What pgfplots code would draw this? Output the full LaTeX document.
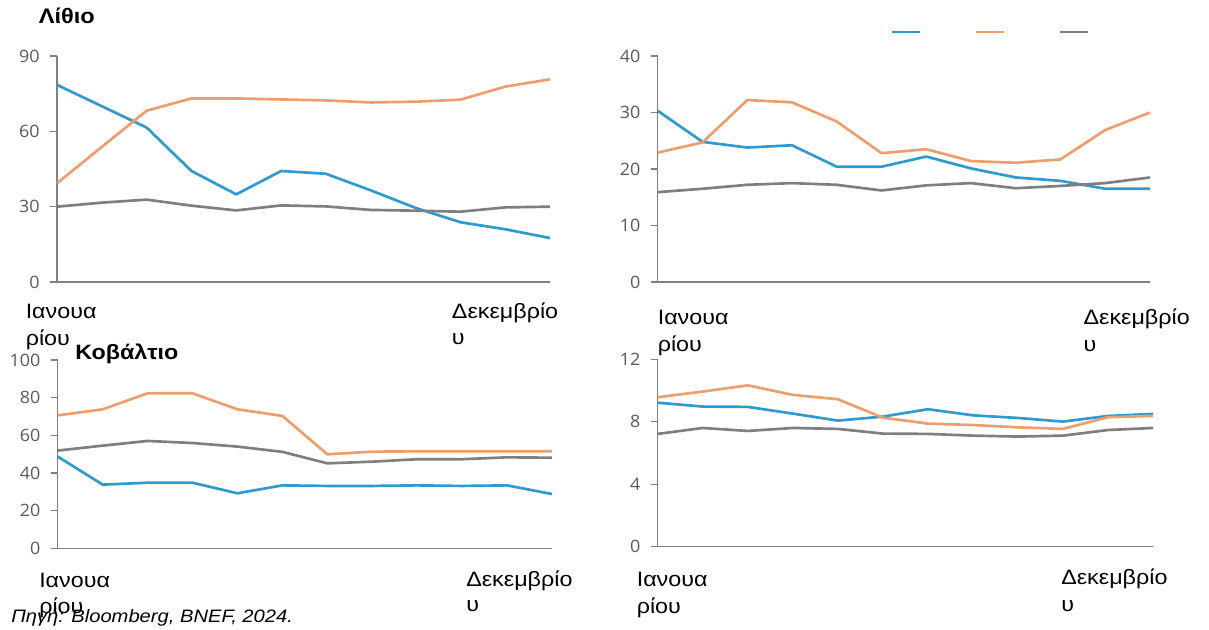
\documentclass[border=0pt]{standalone}
\usepackage{pgfplots}
\pgfplotsset{compat=1.18}
\usepackage{fontspec}
\setmainfont{Liberation Sans}[FakeStretch=1.12]
\newfontfamily\tickfont{Open Sans}[FakeStretch=1.05]
\definecolor{cblue}{HTML}{2E9AD0}
\definecolor{corange}{HTML}{EE9E6C}
\definecolor{cgray}{HTML}{7F7F7F}
\definecolor{axisgray}{HTML}{808080}
\definecolor{tickgray}{HTML}{595959}
\newcommand{\lbl}{\fontsize{15.6}{17}\selectfont}
\newcommand{\pxnode}[4][]{\node[anchor=base west, inner sep=0pt, #1] at ({#2*0.75pt},{(630-#3)*0.75pt}) {#4};}
\pgfplotsset{panel/.style={
  scale only axis, anchor=south west,
  xmin=0, xmax=11, ymin=0,
  axis x line*=bottom, axis y line*=left,
  axis line style={draw=axisgray, line width=1pt},
  xtick=\empty,
  tick align=outside, major tick length=5pt,
  ytick style={draw=axisgray, line width=1pt},
  yticklabel style={font=\tickfont\fontsize{12.8}{13}\selectfont, text=tickgray, xshift=-4.5pt},
  /pgf/number format/assume math mode=true,
  clip=false,
  every axis plot/.append style={line width=2pt, line join=round, mark=none},
}}
\begin{document}
\begin{tikzpicture}
\useasboundingbox (0,0) rectangle (906.75pt,472.5pt);
% Panel 1: Lithium
\begin{axis}[panel, at={(42.75pt,261pt)}, width=369.75pt, height=169.5pt, ymax=90, ytick={0,30,60,90}]
\addplot[cblue] coordinates {(0,78.5)(1,70)(2,61.5)(3,44.2)(4,34.9)(5,44.2)(6,43.1)(7,36.5)(8,29.5)(9,23.8)(10,21)(11,17.5)};
\addplot[corange] coordinates {(0,39.3)(1,53.8)(2,68.2)(3,73.1)(4,73.1)(5,72.7)(6,72.3)(7,71.5)(8,71.8)(9,72.6)(10,77.8)(11,80.7)};
\addplot[cgray] coordinates {(0,30)(1,31.6)(2,32.8)(3,30.4)(4,28.5)(5,30.5)(6,30.1)(7,28.7)(8,28.4)(9,28)(10,29.7)(11,30)};
\end{axis}
% Panel 2
\begin{axis}[panel, at={(493.3pt,261pt)}, width=369.2pt, height=169.5pt, ymax=40, ytick={0,10,20,30,40},
  legend columns=3,
  legend style={draw=none, fill=none, inner sep=0pt, at={(0.472,1.106)}, anchor=west,
    /tikz/every even column/.append style={column sep=0pt}},
  legend image code/.code={\draw[#1] (0pt,0pt) -- (21pt,0pt);}]
\addplot[cblue] coordinates {(0,30.3)(1,24.8)(2,23.8)(3,24.2)(4,20.4)(5,20.4)(6,22.2)(7,20.1)(8,18.5)(9,17.9)(10,16.5)(11,16.5)};
\addlegendentry{\hspace*{36pt}}
\addplot[corange] coordinates {(0,22.9)(1,24.7)(2,32.2)(3,31.8)(4,28.4)(5,22.8)(6,23.5)(7,21.4)(8,21.1)(9,21.7)(10,26.9)(11,30)};
\addlegendentry{\hspace*{36pt}}
\addplot[cgray] coordinates {(0,15.9)(1,16.5)(2,17.2)(3,17.5)(4,17.2)(5,16.2)(6,17.1)(7,17.5)(8,16.6)(9,17)(10,17.5)(11,18.5)};
\addlegendentry{\hspace*{36pt}}
\end{axis}
% Panel 3: Cobalt
\begin{axis}[panel, at={(43.3pt,61.3pt)}, width=370.7pt, height=141.2pt, ymax=100, ytick={0,20,40,60,80,100}]
\addplot[cblue] coordinates {(0,48.7)(1,33.8)(2,34.8)(3,34.8)(4,29.2)(5,33.4)(6,33.1)(7,33.1)(8,33.4)(9,33.1)(10,33.4)(11,28.8)};
\addplot[corange] coordinates {(0,70.6)(1,73.8)(2,82.3)(3,82.3)(4,73.8)(5,70.3)(6,49.9)(7,51.3)(8,51.5)(9,51.5)(10,51.5)(11,51.5)};
\addplot[cgray] coordinates {(0,51.9)(1,54.5)(2,57)(3,55.9)(4,54)(5,51.2)(6,45.1)(7,46)(8,47.3)(9,47.3)(10,48.3)(11,48.1)};
\end{axis}
% Panel 4
\begin{axis}[panel, at={(493.3pt,62.5pt)}, width=371.5pt, height=140.55pt, ymax=12, ytick={0,4,8,12}]
\addplot[cblue] coordinates {(0,9.22)(1,8.97)(2,8.95)(3,8.52)(4,8.07)(5,8.33)(6,8.8)(7,8.41)(8,8.24)(9,8.01)(10,8.37)(11,8.5)};
\addplot[corange] coordinates {(0,9.57)(1,9.93)(2,10.33)(3,9.72)(4,9.44)(5,8.26)(6,7.88)(7,7.79)(8,7.64)(9,7.54)(10,8.29)(11,8.37)};
\addplot[cgray] coordinates {(0,7.22)(1,7.6)(2,7.41)(3,7.6)(4,7.54)(5,7.24)(6,7.22)(7,7.11)(8,7.05)(9,7.11)(10,7.47)(11,7.6)};
\end{axis}
% Titles
\pxnode{38.5}{24}{\fontsize{15.8}{17}\selectfont\bfseries Λίθιο}
\pxnode{75}{360}{\fontsize{15.6}{17}\selectfont\bfseries Κοβάλτιο}
% X labels
\pxnode{25.5}{318.3}{\lbl Ιανουα}
\pxnode{25.5}{345.5}{\lbl ρίου}
\pxnode{451.7}{318.3}{\lbl Δεκεμβρίο}
\pxnode{451.7}{345}{\lbl υ}
\pxnode{657.5}{325}{\lbl Ιανουα}
\pxnode{657.5}{351.7}{\lbl ρίου}
\pxnode{1083.3}{325}{\lbl Δεκεμβρίο}
\pxnode{1083.3}{351.7}{\lbl υ}
\pxnode{39}{588}{\lbl Ιανουα}
\pxnode{39}{614}{\lbl ρίου}
\pxnode{466}{586.7}{\lbl Δεκεμβρίο}
\pxnode{466}{612}{\lbl υ}
\pxnode{636.5}{587}{\lbl Ιανουα}
\pxnode{636.5}{613.3}{\lbl ρίου}
\pxnode{1061}{585}{\lbl Δεκεμβρίο}
\pxnode{1061}{612}{\lbl υ}
% Source
\pxnode{11}{623}{\fontsize{13.5}{15}\selectfont\itshape Πηγή: Bloomberg, BNEF, 2024.}
\end{tikzpicture}
\end{document}
